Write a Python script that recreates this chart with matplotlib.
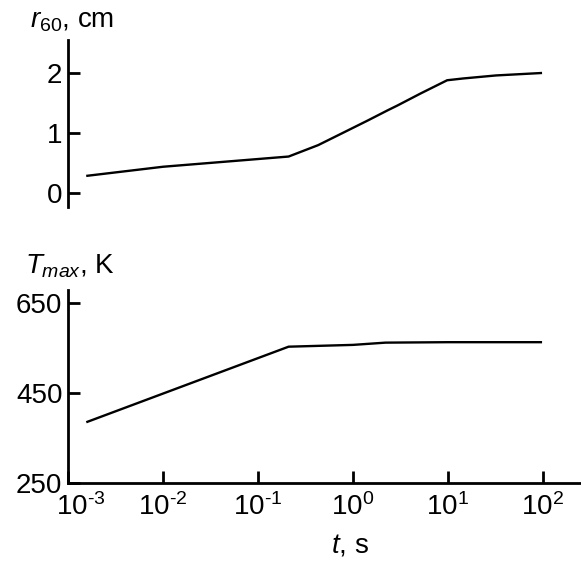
import numpy as np
import matplotlib
matplotlib.use("Agg")
import matplotlib.pyplot as plt
import matplotlib.transforms as mtransforms

plt.rcParams['font.family'] = ['Liberation Sans', 'DejaVu Sans']
plt.rcParams['mathtext.fontset'] = 'custom'
plt.rcParams['mathtext.rm'] = 'Liberation Sans'
plt.rcParams['mathtext.it'] = 'Liberation Sans:italic'
plt.rcParams['mathtext.default'] = 'regular'
plt.rcParams['axes.unicode_minus'] = False

# r60 vs time
t_r = [1.6e-3, 0.01, 0.21, 0.43, 0.82, 1.43, 2.32, 2.94, 5.15, 9.8, 14.5, 32, 95]
r60 = [0.29, 0.44, 0.61, 0.80, 1.02, 1.21, 1.38, 1.46, 1.66, 1.88, 1.91, 1.96, 2.0]

# Tmax vs time
t_T = [1.6e-3, 0.21, 1.0, 2.2, 10, 95]
Tmax = [386, 553, 557, 562, 563, 563]

r_ticks = [0, 1, 2]
T_ticks = [250, 450, 650]
t_ticks = [1e-3, 1e-2, 1e-1, 1e0, 1e1, 1e2]
t_exps = ['-3', '-2', '-1', '0', '1', '2']

W, H = 581, 562
fig = plt.figure(figsize=(W / 100, H / 100), dpi=100)

x0 = 68 / W
ax1 = fig.add_axes([x0, 1 - 207 / H, 1 - x0, (207 - 40) / H])
ax2 = fig.add_axes([x0, 1 - 483 / H, 1 - x0, (483 - 290) / H])

xlim = (1e-3, 10 ** 2.4)
lw_spine = 2.0
lw_line = 1.7

for ax in (ax1, ax2):
    ax.set_xscale('log')
    ax.set_xlim(*xlim)
    ax.set_facecolor('none')
    for s in ('top', 'right'):
        ax.spines[s].set_visible(False)
    for s in ('left', 'bottom'):
        ax.spines[s].set_linewidth(lw_spine)
    ax.tick_params(direction='in', length=8.5, width=lw_spine, labelsize=20, pad=4)
    ax.minorticks_off()

# top panel
ax1.plot(t_r, r60, color='black', lw=lw_line)
ax1.set_ylim(-0.23, 2.55)
ax1.set_yticks(r_ticks)
ax1.spines['bottom'].set_visible(False)
ax1.set_xticks([])
fig.text(30 / W, 1 - 28 / H, r'$\mathit{r}_{60}$, cm', fontsize=20, ha='left', va='baseline')

# bottom panel
ax2.plot(t_T, Tmax, color='black', lw=lw_line)
ax2.set_ylim(250, 679)
ax2.set_yticks(T_ticks)
ax2.set_xticks(t_ticks)
ax2.set_xticklabels([r'$10^{\text{%s}}$' % e for e in t_exps])
ax2.tick_params(axis='x', pad=7)
lab0 = ax2.get_xticklabels()[0]
lab0.set_transform(lab0.get_transform() + mtransforms.ScaledTranslation(13 / 100, 0, fig.dpi_scale_trans))
fig.text(25 / W, 1 - 273 / H, r'$\mathit{T}_{\mathit{max}}$, K', fontsize=20, ha='left', va='baseline')
fig.text(350 / W, 1 - 552 / H, r'$\mathit{t}$, s', fontsize=20, ha='center', va='baseline')

fig.savefig('out.png', dpi=100)
